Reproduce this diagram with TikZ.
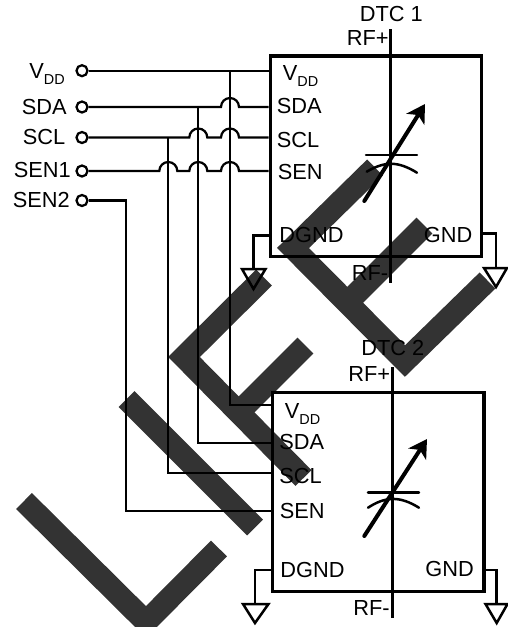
\documentclass[tikz,border=0pt]{standalone}
\usepackage{fontspec}
\usetikzlibrary{arrows.meta}
\setmainfont{Liberation Sans}
\definecolor{bandgray}{HTML}{333333}
\newcommand{\vddlabel}{V\raisebox{-3.5pt}[0pt][0pt]{\fontsize{8.2}{8.2}\selectfont DD}}
\newcommand{\hop}[2]{-- (#1-9,#2) arc[start angle=180,end angle=360,radius=9]}
\tikzset{
  band/.style={draw=bandgray,line width=0.45cm,miter limit=10},
  wire/.style={line width=0.045cm},
  chip/.style={line width=0.07cm},
  rfline/.style={line width=0.055cm},
  plate/.style={line width=0.05cm,line cap=round},
  tune/.style={line width=0.08cm,line cap=round},
  term/.style={circle,draw,line width=0.045cm,inner sep=0pt,minimum size=0.22cm},
  lbl/.style={font=\fontsize{12.4}{12.4}\selectfont,inner sep=0pt,anchor=west},
  gnd/.style={line width=0.05cm,line join=miter}
}
\begin{document}
\begin{tikzpicture}[x=0.02cm,y=-0.02cm]
\useasboundingbox (0,0) rectangle (508,627);
\begin{scope}
\clip (0,0) rectangle (508,627);
% watermark
\draw[band] (375,167.5) -- (293,248) -- (405,361) -- (487.5,280.5);
\draw[band] (424.5,225.5) -- (347.5,302.5);
\draw[band] (264,277.5) -- (184,357) -- (303.5,478);
\draw[band] (305.5,345.5) -- (239,412);
\draw[band] (126.5,399) -- (255,527.5);
\draw[band] (24,501) -- (146,622) -- (219,548.5);
\end{scope}
% chips
\node[draw,chip,minimum width=4.23cm,minimum height=4.01cm,inner sep=0pt] (dtc1) at (376,156.3) {};
\node[draw,chip,minimum width=4.23cm,minimum height=3.98cm,inner sep=0pt] (dtc2) at (378.3,492.2) {};
% terminals
\node[term] (vdd) at (82,70.7) {};
\node[term] (sda) at (82,107) {};
\node[term] (scl) at (82,137.5) {};
\node[term] (sen1) at (82,171) {};
\node[term] (sen2) at (82,200.5) {};
% pins
\coordinate (vdda) at (dtc1.west |- vdd);
\coordinate (sdaa) at (dtc1.west |- sda);
\coordinate (scla) at (dtc1.west |- scl);
\coordinate (sena) at (dtc1.west |- sen1);
\coordinate (vddb) at (dtc2.west |- 0,405);
\coordinate (sdab) at (dtc2.west |- 0,442.7);
\coordinate (sclb) at (dtc2.west |- 0,472.7);
\coordinate (senb) at (dtc2.west |- 0,511);
% control lines
\draw[wire] (vdd) -- (vdda);
\draw[wire] (sda) \hop{230}{107} -- (sdaa);
\draw[wire] (scl) \hop{198.3}{137.5} \hop{230}{137.5} -- (scla);
\draw[wire] (sen1) \hop{168.3}{171} \hop{198.3}{171} \hop{230}{171} -- (sena);
\draw[wire] (vdd -| 230,0) -- (230,405) -- (vddb);
\draw[wire] (sda -| 198.3,0) -- (198.3,442.7) -- (sdab);
\draw[wire] (scl -| 168.3,0) -- (168.3,472.7) -- (sclb);
\draw[wire] (sen2) -- (126,200.5) -- (126,511) -- (senb);
% outside labels
\node[lbl] at (29,70.5) {\vddlabel};
\node[lbl] at (21.5,107) {SDA};
\node[lbl] at (22.5,137) {SCL};
\node[lbl] at (13.5,170) {SEN1};
\node[lbl] at (12.5,200) {SEN2};
% first chip
\node[lbl] at (282.5,73) {\vddlabel};
\node[lbl] at (276.5,106) {SDA};
\node[lbl] at (276.5,140) {SCL};
\node[lbl] at (277.5,172) {SEN};
\node[lbl] at (279,235) {DGND};
\node[lbl] at (423.5,235) {GND};
\node[lbl] at (351.5,273) {RF-};
\node[lbl] at (346.5,38) {RF+};
\node[lbl] at (359.5,14) {DTC 1};
\coordinate (rfa) at (390.3,29);
\coordinate (rfb) at (390.3,283);
\draw[rfline] (rfa) -- (rfb);
\draw[plate] (366,155) -- (417,155);
\draw[plate] (366.7,171.7) .. controls (385,161) and (398,161) .. (417,172.7);
\draw[tune,-{Stealth[length=0.36cm,width=0.42cm,inset=0.1cm]}] (364.3,201) -- (425,104);
% second chip
\node[lbl] at (284.5,411) {\vddlabel};
\node[lbl] at (279,442) {SDA};
\node[lbl] at (279,476) {SCL};
\node[lbl] at (279.5,511) {SEN};
\node[lbl] at (280,570) {DGND};
\node[lbl] at (425,569) {GND};
\node[lbl] at (353,608) {RF-};
\node[lbl] at (348,374) {RF+};
\node[lbl] at (361,348) {DTC 2};
\coordinate (rfc) at (392.7,367);
\coordinate (rfd) at (392.7,617.7);
\draw[rfline] (rfc) -- (rfd);
\draw[plate] (368,492.3) -- (419,492.3);
\draw[plate] (368,507.7) .. controls (386,496) and (400,496) .. (419,507.7);
\draw[tune,-{Stealth[length=0.36cm,width=0.42cm,inset=0.1cm]}] (364.3,536) -- (427,439);
% grounds
\draw[gnd] (dtc1.west |- 0,235.5) -- (253.5,235.5) -- (253.5,269);
\draw[gnd] (242,269) -- (265.5,269) -- (253.5,289) -- cycle;
\draw[gnd] (dtc1.east |- 0,233.5) -- (496,233.5) -- (496,268);
\draw[gnd] (484,268) -- (507,268) -- (496,287) -- cycle;
\draw[gnd] (dtc2.west |- 0,570) -- (255,570) -- (255,604);
\draw[gnd] (243,604) -- (268.5,604) -- (255,623) -- cycle;
\draw[gnd] (dtc2.east |- 0,570) -- (496.7,570) -- (496.7,604);
\draw[gnd] (485.5,604) -- (507.5,604) -- (496.7,623) -- cycle;
\end{tikzpicture}
\end{document}
